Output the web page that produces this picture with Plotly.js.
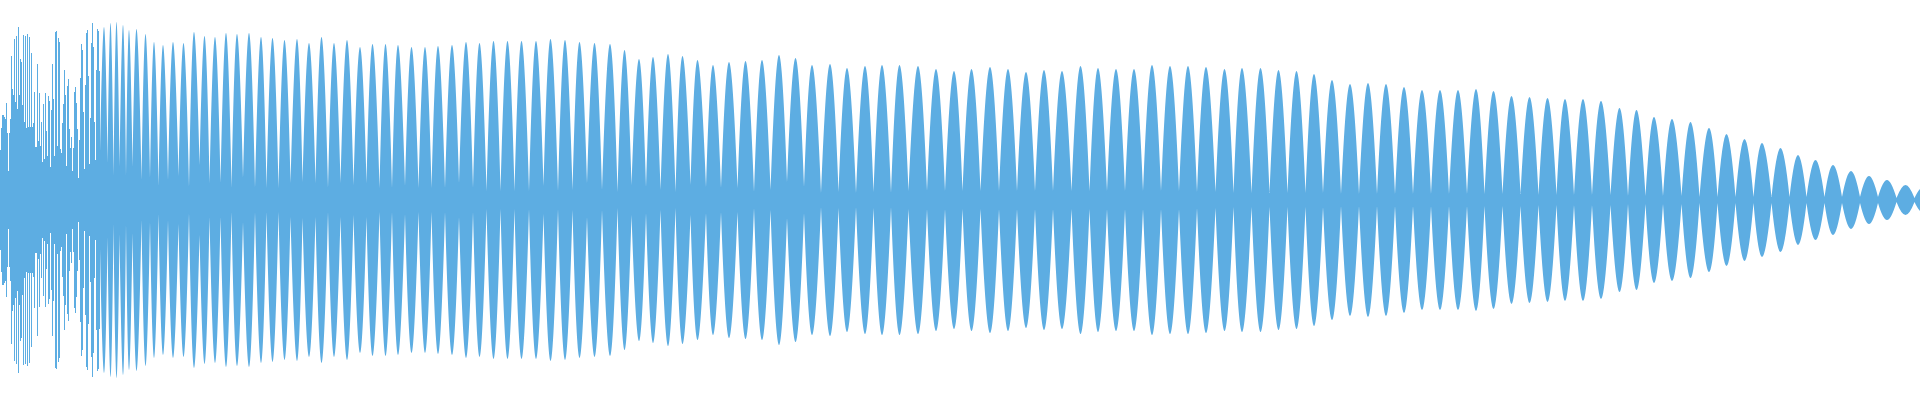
<!DOCTYPE html>
<html>
<head>
<meta charset="utf-8">
<script src="https://cdn.plot.ly/plotly-3.0.1.min.js"></script>
<style>html,body{margin:0;padding:0;background:#fff;}#chart{width:1920px;height:400px;}</style>
</head>
<body>
<div id="chart"></div>
<script>
// Per-column amplitude of the chaotic attack (columns 0..99)
const colAmp = [50,72,85,85,83,81,97,67,29,67,81,144,111,105,161,98,164,91,173,105,
141,138,95,165,78,164,72,166,73,163,73,147,73,77,108,53,53,136,59,107,
54,78,38,96,41,107,69,44,104,99,33,90,136,101,44,168,169,54,162,158,
51,47,77,96,130,105,34,114,121,71,52,63,29,52,108,113,97,71,22,60,
122,156,150,88,31,115,167,170,124,36,82,157,177,153,78,40,130,171,169,129];

// Lobe peaks (sample position, amplitude)
const peakX = [103.5,110,116,122.5,128.5,136,145,153.5,162.5,172.5,183,193.5,204,214.5,225.5,236.5,248.5,260.5,272,284,
296.5,308.5,321,333.5,346.5,359.5,372,385,397.5,411,424.5,437.5,451.5,465.5,479,493,507,521,535.5,550,
564.5,579,594,609.5,624,638.5,652.5,667.5,682,697,712.5,728.5,745,761.5,778.5,795,811.5,829.5,846.5,864.5,
881.5,899,917.5,935.5,953.5,971,989.5,1007.5,1025.5,1043.5,1061.5,1080,1097.5,1115.5,1133.5,1151.5,1169.5,1187.5,1205.5,1224,
1241.5,1260,1278,1296,1313.5,1331.5,1349.5,1367.5,1385.5,1403.5,1421.5,1439.5,1457.5,1475.5,1493,1511,1529,1547,1564.5,1582.5,
1600.5,1619,1636,1653.5,1671.5,1690,1708.5,1726,1744,1761.5,1780,1797.5,1815,1832.5,1850.5,1868.5,1886.5,1905,1923];
const peakAmp = [173,177,178,175,170,171,166,158,155,158,157,168,164,163,167,166,167,163,162,160,
161,157,163,157,160,153,156,156,155,153,153,154,155,158,157,159,159,159,159,161,
160,158,157,156,150,141,143,146,144,140,135,138,139,140,145,142,135,136,132,134,
135,135,134,131,129,131,133,131,128,130,129,134,132,131,131,135,134,134,133,131,
132,132,130,129,126,120,116,117,116,113,110,110,110,111,109,104,103,102,101,101,
99,92,90,83,81,78,72,66,61,57,52,45,40,35,29,24,20,15,13];

// Necks between lobes (sample position, amplitude)
const neckX = [99.5,107,113,119,125.5,132,141,149.5,158,167.5,178,188.5,199,209,220,231,242.5,254.5,266,278,
290,302,315,327.5,340,353,366,379,391.5,404.5,418,431,444.5,458.5,472.5,486,500,514,528.5,543,
557.5,572,586.5,601.5,617,631,645.5,660,675,690,705.5,720.5,737,753.5,770,786.5,803.5,820.5,838,855.5,
873,890.5,908,926.5,944.5,962,980,998.5,1016.5,1034.5,1052.5,1071,1089,1106.5,1124.5,1142.5,1160.5,1178.5,1196.5,1215,
1233,1251,1269,1287,1305,1322.5,1340.5,1358.5,1376.5,1394.5,1412.5,1430.5,1448.5,1466.5,1484,1502,1520,1538,1556,1573.5,
1591.5,1610,1627.5,1645,1662.5,1681,1699,1717,1735,1753,1771,1789,1806,1824,1841.5,1859.5,1877.5,1896,1914,1932];
const neckAmp = [48,37,24,34,24,33,20,22,14,20,24,13,35,17,17,12,22,12,12,12,
17,18,17,12,17,15,17,12,12,14,12,12,12,17,12,9,9,9,9,14,
9,10,17,10,8,15,13,10,8,15,13,12,12,8,10,18,13,7,8,7,
8,7,9,9,9,9,9,9,9,9,9,9,9,9,9,9,9,9,8,8,
7,7,7,7,7,7,6,6,6,6,6,6,6,6,6,6,6,5,5,5,
5,5,4,4,4,4,3,3,3,3,3,3,3,3,3,3,3,2,2,2];

const COLOR = 'rgb(93,173,226)';

const colX = colAmp.map((_, i) => i);
const upX = [], upY = [], loX = [], loY = [];
for (let i = 0; i < peakX.length; i++) {
  upX.push(neckX[i], peakX[i], neckX[i + 1], null);
  upY.push(neckAmp[i], peakAmp[i], neckAmp[i + 1], null);
  loX.push(neckX[i], peakX[i], neckX[i + 1], null);
  loY.push(-neckAmp[i], -peakAmp[i], -neckAmp[i + 1], null);
}

const traces = [
  {type: 'bar', x: colX, y: colAmp, width: 1, marker: {color: COLOR, line: {width: 0}}, hoverinfo: 'skip'},
  {type: 'bar', x: colX, y: colAmp.map(v => -v), width: 1, marker: {color: COLOR, line: {width: 0}}, hoverinfo: 'skip'},
  {type: 'scatter', mode: 'lines', x: upX, y: upY, fill: 'tozeroy', fillcolor: COLOR,
   line: {color: COLOR, width: 0, shape: 'spline', smoothing: 1.3, simplify: false}, connectgaps: false, hoverinfo: 'skip'},
  {type: 'scatter', mode: 'lines', x: loX, y: loY, fill: 'tozeroy', fillcolor: COLOR,
   line: {color: COLOR, width: 0, shape: 'spline', smoothing: 1.3, simplify: false}, connectgaps: false, hoverinfo: 'skip'}
];

const layout = {
  width: 1920, height: 400,
  margin: {l: 0, r: 0, t: 0, b: 0, pad: 0},
  paper_bgcolor: '#ffffff', plot_bgcolor: '#ffffff',
  showlegend: false,
  barmode: 'relative', bargap: 0,
  xaxis: {range: [-0.5, 1919.5], visible: false, showgrid: false, zeroline: false, fixedrange: true},
  yaxis: {range: [-200, 200], visible: false, showgrid: false, zeroline: false, fixedrange: true}
};

Plotly.newPlot('chart', traces, layout, {staticPlot: true, displayModeBar: false});
</script>
</body>
</html>
